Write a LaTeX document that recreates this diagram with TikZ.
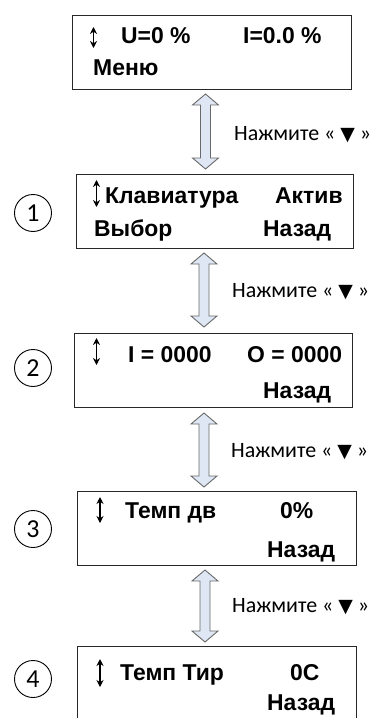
\documentclass[tikz,border=0pt]{standalone}
\usepackage{fontspec}
\setmainfont{Liberation Sans}
\newfontfamily\hintfont{Carlito}
\newfontfamily\symfont{DejaVu Sans}
\usetikzlibrary{arrows.meta,calc}

\definecolor{arrowfill}{RGB}{222,231,243}
\definecolor{arrowline}{RGB}{105,105,105}
\definecolor{frame}{RGB}{40,40,40}

% vertical double block arrow: #1 name, #2 centre x, #3 top tip y, #4 bottom tip y
\newcommand\blockdbl[4]{%
  \coordinate (#1t) at (#2,#3);
  \coordinate (#1b) at (#2,#4);
  \draw[blockarr]
    (#1t) -- ++(13,11) -- ++(-8,0) |- ($(#1b)+(5,-11)$) -- ++(8,0) -- (#1b)
    -- ++(-13,-11) -- ++(8,0) |- ($(#1t)+(-5,11)$) -- ++(-8,0) -- cycle;
}
\newcommand\presskey{Нажмите « {\symfont\fontsize{19}{21}\selectfont▼} »}

\begin{document}
\begin{tikzpicture}[x=1bp,y=-1bp]
\tikzset{
  lcd/.style={draw=frame, line width=1.3bp, fill=white, inner sep=0, anchor=north west},
  lcdtext/.style={font=\fontsize{23}{24}\selectfont\bfseries, inner sep=0, anchor=base west},
  hint/.style={font=\hintfont\fontsize{22}{24}\selectfont, inner sep=0, anchor=base west},
  stepnum/.style={circle, draw=black, line width=0.9bp, minimum size=37bp, inner sep=0,
                  font=\hintfont\fontsize{26}{28}\selectfont},
  scroll/.style={line width=1.2bp, {Stealth[length=7bp,width=7bp]}-{Stealth[length=7bp,width=7bp]}},
  blockarr/.style={draw=arrowline, line width=0.9bp, fill=arrowfill, line join=miter},
}
\useasboundingbox (0,0) rectangle (377,718);
\clip (0,0) rectangle (377,718);

% display screens
\node[lcd, minimum width=280, minimum height=74] (s0) at (72,15) {};
\node[lcd, minimum width=278, minimum height=74] (s1) at (76,174) {};
\node[lcd, minimum width=279, minimum height=74] (s2) at (74,333) {};
\node[lcd, minimum width=280, minimum height=74] (s3) at (77,491) {};
\node[lcd, minimum width=280, minimum height=90] (s4) at (77,646) {};

% screen 0
\draw[scroll] (93.5,27) coordinate (k0t) -- (93.5,48) coordinate (k0b);
\node[lcdtext] (t0a) at (121,44) {U=0 \%};
\node[lcdtext] (t0b) at (243,44) {I=0.0 \%};
\node[lcdtext] (t0c) at (93,76) {Меню};

% screen 1
\draw[scroll] (96.5,180) coordinate (k1t) -- (96.5,207) coordinate (k1b);
\node[lcdtext] (t1a) at (105,203) {Клавиатура};
\node[lcdtext] (t1b) at (275,203) {Актив};
\node[lcdtext] (t1c) at (94,236) {Выбор};
\node[lcdtext] (t1d) at (263,236) {Назад};

% screen 2
\draw[scroll] (96.5,338) coordinate (k2t) -- (96.5,365) coordinate (k2b);
\node[lcdtext] (t2a) at (128,362) {I = 0000};
\node[lcdtext] (t2b) at (247,362) {O = 0000};
\node[lcdtext] (t2c) at (263,398) {Назад};

% screen 3
\draw[scroll] (100,497) coordinate (k3t) -- (100,523) coordinate (k3b);
\node[lcdtext] (t3a) at (125,518) {Темп дв};
\node[lcdtext] (t3b) at (280,518) {0\%};
\node[lcdtext] (t3c) at (267,557) {Назад};

% screen 4
\draw[scroll] (100,659) coordinate (k4t) -- (100,687) coordinate (k4b);
\node[lcdtext] (t4a) at (120,680) {Темп Тир};
\node[lcdtext] (t4b) at (290,680) {0C};
\node[lcdtext] (t4c) at (267,710) {Назад};

% step numbers
\node[stepnum] (n1) at (33,213) {1};
\node[stepnum] (n2) at (33,368) {2};
\node[stepnum] (n3) at (33,529) {3};
\node[stepnum] (n4) at (33,679) {4};

% transitions between screens
\blockdbl{a1}{205.5}{94}{169}
\blockdbl{a2}{204}{253}{327}
\blockdbl{a3}{204}{413}{487}
\blockdbl{a4}{205}{570}{642}

\node[hint] (h1) at (234,141) {\presskey};
\node[hint] (h2) at (232,297) {\presskey};
\node[hint] (h3) at (231,457) {\presskey};
\node[hint] (h4) at (232,612) {\presskey};
\end{tikzpicture}
\end{document}
